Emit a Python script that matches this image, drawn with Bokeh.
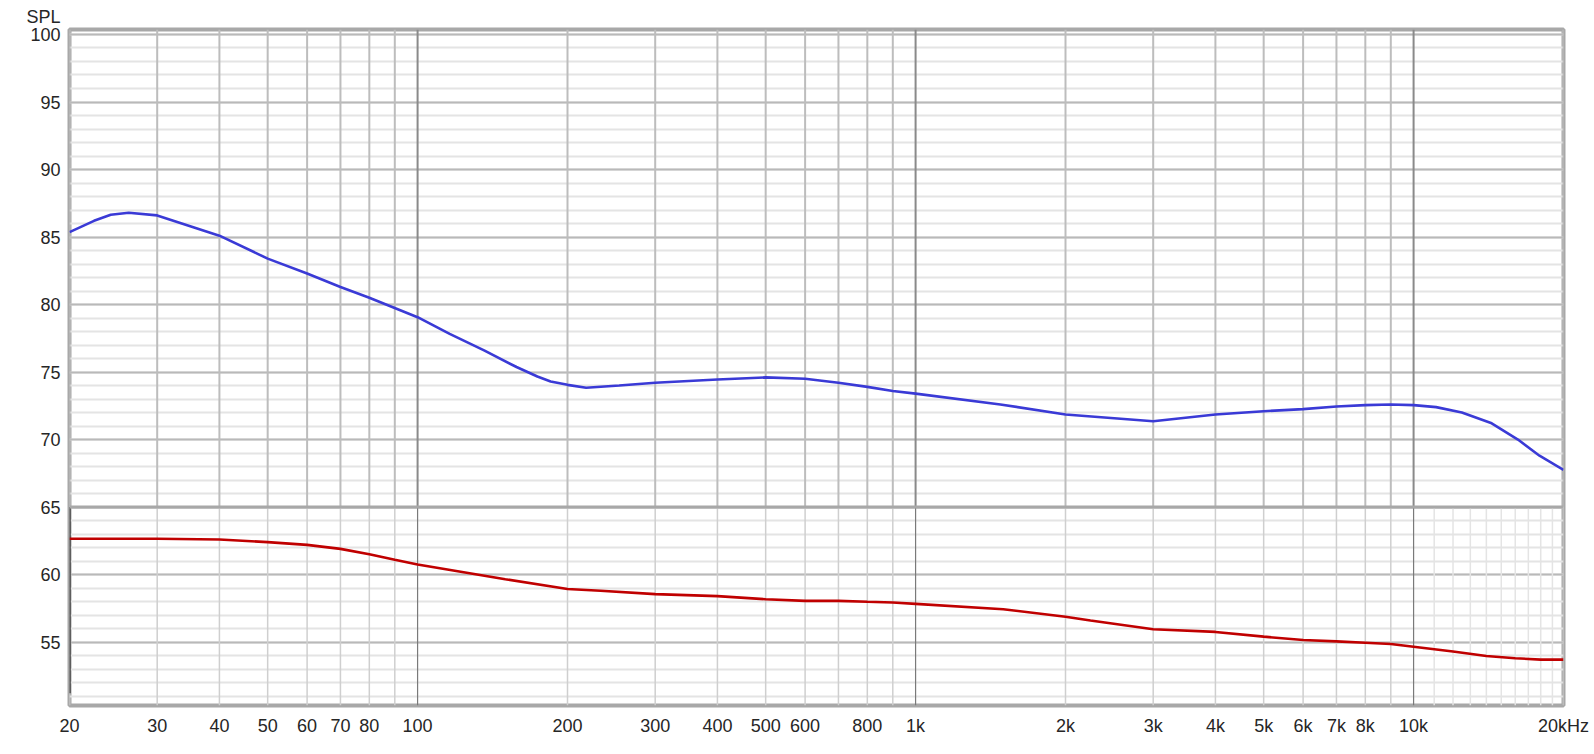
from bokeh.plotting import figure
from bokeh.models import Range1d, FixedTicker, Span
from bokeh.embed import file_html
from bokeh.resources import INLINE

# ---- data ----
blue_freq = [20, 22.4, 24.2, 26.3, 30, 40, 50, 60, 70, 80, 100, 116, 136, 158, 174, 185,
             200, 218, 254, 300, 400, 500, 600, 700, 800, 900, 1000, 1480, 2000, 3000,
             4000, 5000, 6000, 7000, 8000, 9000, 10000, 11100, 12500, 14350, 16200, 17900, 20000]
blue_spl = [85.36, 86.2, 86.65, 86.8, 86.6, 85.1, 83.4, 82.3, 81.3, 80.5, 79.06, 77.83, 76.6, 75.37, 74.67, 74.3,
            74.05, 73.83, 74.0, 74.2, 74.45, 74.6, 74.5, 74.2, 73.9, 73.6, 73.4, 72.6, 71.85, 71.35,
            71.85, 72.1, 72.25, 72.45, 72.55, 72.6, 72.55, 72.4, 72.0, 71.2, 70.0, 68.8, 67.75]

red_freq = [20, 30, 40, 50, 60, 70, 80, 90, 100, 150, 200, 233, 300, 400, 500, 600, 700, 800,
            900, 1000, 1500, 2000, 2245, 3000, 4000, 5000, 6000, 7000, 8000, 9000, 10000,
            12000, 14000, 16000, 18000, 20000]
red_spl = [62.65, 62.65, 62.6, 62.4, 62.2, 61.9, 61.5, 61.1, 60.75, 59.65, 58.93, 58.8, 58.55, 58.4, 58.17, 58.05, 58.05, 57.98,
           57.93, 57.83, 57.43, 56.87, 56.6, 55.95, 55.75, 55.4, 55.15, 55.05, 54.95, 54.85, 54.65,
           54.3, 53.97, 53.8, 53.7, 53.7]

x_label_ticks = [20, 30, 40, 50, 60, 70, 80, 100, 200, 300, 400, 500, 600, 800,
                 1000, 2000, 3000, 4000, 5000, 6000, 7000, 8000, 10000, 20000]
x_labels = ["20", "30", "40", "50", "60", "70", "80", "100", "200", "300", "400", "500", "600", "800",
            "1k", "2k", "3k", "4k", "5k", "6k", "7k", "8k", "10k", "20kHz"]
grid_freqs = [20, 30, 40, 50, 60, 70, 80, 90, 200, 300, 400, 500, 600, 700, 800, 900,
              2000, 3000, 4000, 5000, 6000, 7000, 8000, 9000, 20000]
decade_freqs = [100, 1000, 10000]
fine_freqs = [11000, 12000, 13000, 14000, 15000, 16000, 17000, 18000, 19000]
y_major = [55, 60, 65, 70, 75, 80, 85, 90, 95, 100]
y_minor = list(range(51, 101))

x_lo, x_hi = 20, 20000
y_lo, y_hi = 50.3, 100.37
split = 65

FONT = "Liberation Sans"

p = figure(width=1590, height=745, x_axis_type="log",
           x_range=Range1d(x_lo, x_hi), y_range=Range1d(y_lo, y_hi),
           output_backend="svg", toolbar_location=None,
           min_border_left=69, min_border_right=27, min_border_top=29, min_border_bottom=40)
p.background_fill_color = "white"
p.border_fill_color = "white"
p.outline_line_color = "#a8a8a8"
p.outline_line_width = 4

# title "SPL" at the top-left corner
p.title.text = "SPL"
p.title.align = "left"
p.title.offset = -43
p.title.standoff = 6
p.title.text_font = FONT
p.title.text_font_size = "18px"
p.title.text_font_style = "normal"
p.title.text_color = "#262626"

# horizontal grid
p.ygrid.ticker = FixedTicker(ticks=y_major, minor_ticks=y_minor)
p.ygrid.grid_line_color = "#b9b9b9"
p.ygrid.grid_line_width = 2
p.ygrid.minor_grid_line_color = "#e4e4e4"
p.ygrid.minor_grid_line_width = 2
p.xgrid.grid_line_color = None

# vertical grid, upper panel
p.segment(x0=grid_freqs, x1=grid_freqs, y0=split, y1=y_hi, line_color="#bdbdbd", line_width=2)
p.segment(x0=decade_freqs, x1=decade_freqs, y0=split, y1=y_hi, line_color="#8a8a8a", line_width=2)
# vertical grid, lower panel
p.segment(x0=fine_freqs, x1=fine_freqs, y0=y_lo, y1=split, line_color="#e4e4e4", line_width=1.5)
p.segment(x0=grid_freqs, x1=grid_freqs, y0=y_lo, y1=split, line_color="#cfcfcf", line_width=1.5)
p.segment(x0=decade_freqs, x1=decade_freqs, y0=y_lo, y1=split, line_color="#7a7a7a", line_width=1.2)

p.add_layout(Span(location=split, dimension="width", line_color="#a8a8a8", line_width=3))
p.segment(x0=[x_lo], x1=[x_lo], y0=51.2, y1=split, line_color="#404040", line_width=2.5)

# curves
p.line(blue_freq, blue_spl, line_color="#3a3ad6", line_width=2.6)
p.line(red_freq, red_spl, line_color="#c00000", line_width=2.6)

# axes
p.xaxis.ticker = FixedTicker(ticks=x_label_ticks)
p.xaxis.major_label_overrides = dict(zip(x_label_ticks, x_labels))
p.yaxis.ticker = FixedTicker(ticks=y_major)
for ax in (p.xaxis[0], p.yaxis[0]):
    ax.axis_line_color = None
    ax.major_tick_line_color = None
    ax.minor_tick_line_color = None
    ax.major_tick_in = 0
    ax.major_tick_out = 0
    ax.minor_tick_in = 0
    ax.minor_tick_out = 0
    ax.major_label_text_font = FONT
    ax.major_label_text_font_size = "18px"
    ax.major_label_text_color = "#262626"
p.xaxis.major_label_standoff = 10
p.yaxis.major_label_standoff = 9

open("out.html", "w").write(file_html(p, INLINE))
